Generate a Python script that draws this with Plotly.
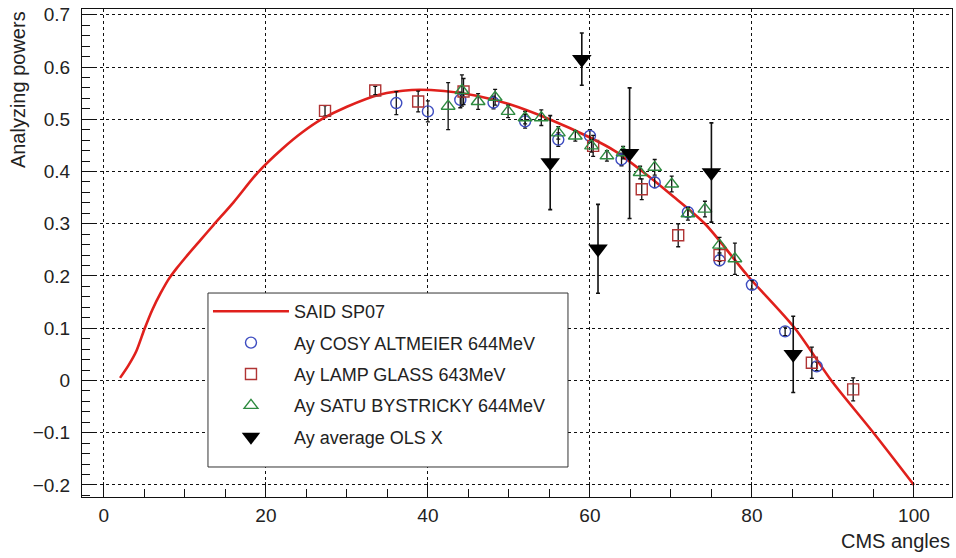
import plotly.graph_objects as go

# SAID SP07 curve
said_x = [2, 3, 4, 5, 6, 7, 8, 9, 10, 12, 13.5, 16, 19, 22, 24.5, 27, 30, 34, 38, 42, 46, 50, 55, 60, 63, 66.5, 70, 74.2, 79.5, 85.3, 89.8, 95, 100]
said_y = [0.005, 0.028, 0.056, 0.098, 0.136, 0.167, 0.194, 0.215, 0.234, 0.270, 0.297, 0.341, 0.398, 0.443, 0.475, 0.501, 0.524, 0.547, 0.556, 0.554, 0.545, 0.529, 0.500, 0.465, 0.440, 0.400, 0.356, 0.300, 0.200, 0.100, 0.000, -0.100, -0.200]

# COSY ALTMEIER 644 MeV
cosy_x = [36.1, 40.0, 44.0, 48.1, 52.0, 56.1, 60.0, 63.9, 68.0, 72.1, 76.0, 80.0, 84.1, 88.0]
cosy_y = [0.531, 0.515, 0.537, 0.532, 0.496, 0.461, 0.468, 0.423, 0.379, 0.322, 0.230, 0.183, 0.094, 0.027]
cosy_e = [0.022, 0.020, 0.015, 0.012, 0.013, 0.013, 0.012, 0.012, 0.010, 0.010, 0.010, 0.008, 0.008, 0.008]

# LAMP GLASS 643 MeV
lamp_x = [27.3, 33.5, 38.8, 44.4, 60.4, 66.4, 70.9, 76.0, 87.4, 92.5]
lamp_y = [0.516, 0.555, 0.534, 0.553, 0.449, 0.366, 0.278, 0.240, 0.034, -0.017]
lamp_e = [0.010, 0.008, 0.020, 0.025, 0.020, 0.020, 0.022, 0.012, 0.030, 0.022]

# SATU BYSTRICKY 644 MeV
satu_x = [42.5, 44.2, 46.2, 48.3, 49.9, 52.0, 54.0, 56.1, 58.2, 60.2, 62.1, 64.1, 66.2, 68.0, 70.1, 72.1, 74.2, 76.0, 77.9]
satu_y = [0.525, 0.555, 0.534, 0.542, 0.515, 0.503, 0.503, 0.474, 0.468, 0.449, 0.430, 0.436, 0.398, 0.408, 0.376, 0.319, 0.328, 0.259, 0.233]
satu_e = [0.045, 0.030, 0.015, 0.015, 0.012, 0.012, 0.015, 0.012, 0.010, 0.012, 0.010, 0.012, 0.012, 0.015, 0.015, 0.012, 0.015, 0.015, 0.030]

# average OLS X
ols_x = [55.1, 59.0, 61.0, 64.9, 75.0, 85.1]
ols_y = [0.417, 0.615, 0.252, 0.435, 0.398, 0.050]
ols_e = [0.090, 0.050, 0.085, 0.125, 0.095, 0.073]

x_ticks = [0, 20, 40, 60, 80, 100]

FONT = "Liberation Sans, Arial, sans-serif"
TXT = "#222222"

fig = go.Figure()

fig.add_trace(go.Scatter(
    x=said_x, y=said_y, mode="lines", name="SAID SP07",
    line=dict(color="#e0201c", width=2.6, shape="spline", smoothing=0.8),
    legendgroup="a"))

def err(e):
    return dict(type="data", array=e, visible=True, color="#111111", thickness=1.3, width=2)

fig.add_trace(go.Scatter(
    x=cosy_x, y=cosy_y, mode="markers", name="Ay COSY ALTMEIER 644MeV",
    marker=dict(symbol="circle-open", size=11, color="#3d4cc0", line=dict(width=1.4)),
    error_y=err(cosy_e), legendgroup="b"))

fig.add_trace(go.Scatter(
    x=lamp_x, y=lamp_y, mode="markers", name="Ay LAMP GLASS 643MeV",
    marker=dict(symbol="square-open", size=11, color="#b03434", line=dict(width=1.4)),
    error_y=err(lamp_e), legendgroup="c"))

fig.add_trace(go.Scatter(
    x=satu_x, y=satu_y, mode="markers", name="Ay SATU BYSTRICKY 644MeV",
    marker=dict(symbol="triangle-up-open", size=12, color="#2e8b40", line=dict(width=1.4)),
    error_y=err(satu_e), legendgroup="d"))

fig.add_trace(go.Scatter(
    x=ols_x, y=ols_y, mode="markers", name="Ay average OLS X",
    marker=dict(symbol="triangle-down", size=17, color="#000000"),
    error_y=dict(type="data", array=ols_e, visible=True, color="#111111", thickness=1.6, width=2),
    legendgroup="e"))

fig.update_layout(
    width=956, height=558,
    margin=dict(l=82, r=4, t=9, b=61, autoexpand=False),
    paper_bgcolor="white", plot_bgcolor="white",
    font=dict(family=FONT, size=18, color=TXT),
    showlegend=True,
    legend=dict(
        x=0.1448, y=0.418, xanchor="left", yanchor="top",
        bgcolor="rgba(0,0,0,0)", borderwidth=0,
        font=dict(family=FONT, size=18, color=TXT),
        tracegroupgap=5, itemwidth=76,
    ),
)

# legend frame (white box with thin border, as in the original)
fig.add_shape(
    type="rect", xref="paper", yref="paper",
    x0=0.1448, x1=0.5586, y0=0.0615, y1=0.418,
    line=dict(color="#333333", width=1), fillcolor="white", layer="above")

fig.update_xaxes(
    range=[-2.7, 104.7], automargin=False,
    tickmode="array", tickvals=x_ticks, ticktext=[str(v) for v in x_ticks],
    ticks="inside", ticklen=15, tickwidth=1, tickcolor="#111111",
    minor=dict(ticks="inside", ticklen=8, dtick=5, tick0=0, tickcolor="#111111", showgrid=False),
    showgrid=True, gridcolor="#111111", griddash="dot", gridwidth=1,
    showline=True, linecolor="#111111", linewidth=1, mirror=True,
    zeroline=False,
    tickfont=dict(family=FONT, size=19, color=TXT),
    ticklabelstandoff=1,
)

fig.update_yaxes(
    range=[-0.223, 0.711], automargin=False,
    tick0=0, dtick=0.1,
    ticks="inside", ticklen=15, tickwidth=1, tickcolor="#111111",
    minor=dict(ticks="inside", ticklen=8, dtick=0.02, tick0=0, tickcolor="#111111", showgrid=False),
    showgrid=True, gridcolor="#111111", griddash="dot", gridwidth=1,
    showline=True, linecolor="#111111", linewidth=1, mirror=True,
    zeroline=False,
    tickfont=dict(family=FONT, size=19, color=TXT),
    ticklabelstandoff=7,
)

fig.add_annotation(
    text="Analyzing powers", xref="paper", yref="paper",
    x=-0.074, y=1.0, xanchor="center", yanchor="top", textangle=-90,
    showarrow=False, font=dict(family=FONT, size=20, color=TXT))

fig.add_annotation(
    text="CMS angles", xref="paper", yref="paper",
    x=1.0, y=-0.09, xanchor="right", yanchor="middle",
    showarrow=False, font=dict(family=FONT, size=20, color=TXT))

fig.write_html("out.html", config={"displayModeBar": False},
               post_script="document.body.style.margin='0';document.body.style.overflow='hidden';")
